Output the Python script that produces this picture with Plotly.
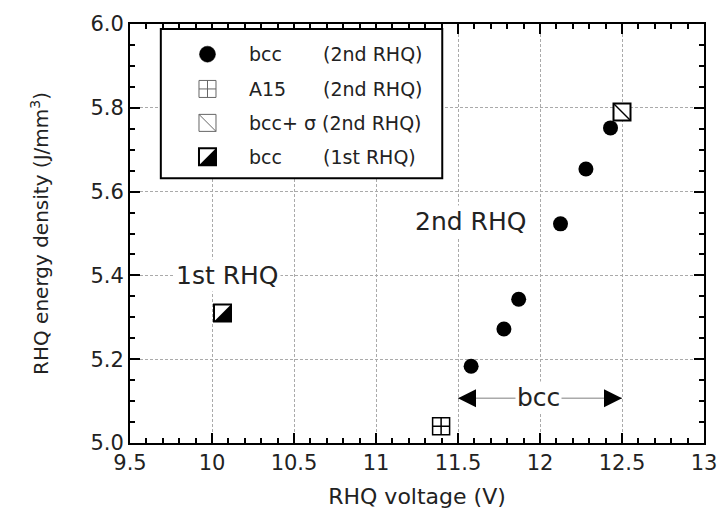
import plotly.graph_objects as go

# ---------------- data ----------------
bcc2_voltage = [11.58, 11.78, 11.87, 12.125, 12.28, 12.43]
bcc2_energy = [5.183, 5.272, 5.343, 5.523, 5.654, 5.752]
a15_voltage = [11.397]
a15_energy = [5.04]
sigma_voltage = [12.50]
sigma_energy = [5.79]
bcc1_voltage = [10.064]
bcc1_energy = [5.31]

bcc_span_voltage = [11.5, 12.5]
bcc_span_energy = [5.107, 5.107]

label_texts = ["1st RHQ", "2nd RHQ", "bcc"]
label_voltage = [10.096, 11.578, 11.99]
label_energy = [5.40, 5.528, 5.109]

legend_phase = ["bcc", "A15", "bcc+ σ", "bcc"]
legend_run = ["(2nd RHQ)", "(2nd RHQ)", "(2nd RHQ)", "(1st RHQ)"]

x_title = "RHQ voltage (V)"
y_title = "RHQ energy density (J/mm<sup>3</sup>)"

FONT = "DejaVu Sans"
SQ = 17  # square marker size (px)

fig = go.Figure()

# ---------------- data marks ----------------
fig.add_trace(go.Scatter(x=bcc2_voltage, y=bcc2_energy, mode="markers",
                         marker=dict(symbol="circle", size=15, color="black"),
                         showlegend=False))
fig.add_trace(go.Scatter(x=a15_voltage, y=a15_energy, mode="markers",
                         marker=dict(symbol="square-cross-open", size=SQ, color="black",
                                     line=dict(width=1.5, color="black")),
                         showlegend=False))
fig.add_trace(go.Scatter(x=sigma_voltage, y=sigma_energy, mode="markers",
                         marker=dict(symbol="square", size=SQ, color="white",
                                     line=dict(width=2, color="black")),
                         showlegend=False))
fig.add_trace(go.Scatter(x=sigma_voltage, y=sigma_energy, mode="markers",
                         marker=dict(symbol="line-nw", size=SQ, color="black",
                                     line=dict(width=1.5, color="black")),
                         showlegend=False))
fig.add_trace(go.Scatter(x=bcc1_voltage, y=bcc1_energy, mode="markers",
                         marker=dict(symbol="square", size=SQ, color="white",
                                     line=dict(width=2, color="black")),
                         showlegend=False))

# bcc span arrow
fig.add_trace(go.Scatter(x=bcc_span_voltage, y=bcc_span_energy, mode="lines",
                         line=dict(color="#aaaaaa", width=1.5), showlegend=False,
                         hoverinfo="skip"))
fig.add_trace(go.Scatter(x=bcc_span_voltage, y=bcc_span_energy, mode="markers",
                         marker=dict(symbol=["arrow-left", "arrow-right"], size=18,
                                     color="black", line=dict(width=0)),
                         showlegend=False, hoverinfo="skip"))

half = SQ / 2
tri_path = f"M {half},{half} L {half},{-half} L {-half},{-half} Z"
for xv, yv in zip(bcc1_voltage, bcc1_energy):
    fig.add_shape(type="path", xref="x", yref="y", xsizemode="pixel", ysizemode="pixel",
                  xanchor=xv, yanchor=yv, path=tri_path,
                  fillcolor="black", line=dict(width=0), layer="above")

# ---------------- labels ----------------
for t, xv, yv in zip(label_texts, label_voltage, label_energy):
    fig.add_annotation(x=xv, y=yv, text=t, showarrow=False, bgcolor="white",
                       xanchor="center", yanchor="middle",
                       font=dict(size=25, family=FONT, color="#222"), borderpad=1)

# ---------------- legend (custom) ----------------
lx0, lx1, ly0, ly1 = 0.0537, 0.544, 0.632, 0.988
fig.add_shape(type="rect", xref="paper", yref="paper", x0=lx0, x1=lx1, y0=ly0, y1=ly1,
              fillcolor="white", line=dict(color="black", width=2), layer="above")
row_y = [0.928, 0.845, 0.764, 0.683]
sym_x = 0.135


def leg_shape(kind, path_or_box, yv, fill, color, width):
    common = dict(xref="paper", yref="paper", xsizemode="pixel", ysizemode="pixel",
                  xanchor=sym_x, yanchor=yv, layer="above",
                  line=dict(color=color, width=width), fillcolor=fill)
    if kind == "path":
        fig.add_shape(type="path", path=path_or_box, **common)
    else:
        fig.add_shape(type=kind, x0=-path_or_box, x1=path_or_box,
                      y0=-path_or_box, y1=path_or_box, **common)


gray = "#666666"
leg_shape("circle", 8, row_y[0], "black", "black", 0.5)
leg_shape("rect", half, row_y[1], "white", gray, 1)
leg_shape("path", f"M {-half},0 L {half},0 M 0,{-half} L 0,{half}", row_y[1], None, gray, 1)
leg_shape("rect", half, row_y[2], "white", gray, 1)
leg_shape("path", f"M {-half},{half} L {half},{-half}", row_y[2], None, gray, 1)
leg_shape("rect", half, row_y[3], "white", "black", 2)
leg_shape("path", tri_path, row_y[3], "black", "black", 0)

col1_x = 0.203
col2_x = 0.333
leg_font = dict(size=19, family=FONT, color="#222")
for i, (ph, run, yv) in enumerate(zip(legend_phase, legend_run, row_y)):
    if i == 2:
        fig.add_annotation(x=col1_x, y=yv, xref="paper", yref="paper", xanchor="left",
                           yanchor="middle", text=ph + " " + run, showarrow=False,
                           font=leg_font)
    else:
        fig.add_annotation(x=col1_x, y=yv, xref="paper", yref="paper", xanchor="left",
                           yanchor="middle", text=ph, showarrow=False, font=leg_font)
        fig.add_annotation(x=col2_x, y=yv, xref="paper", yref="paper", xanchor="left",
                           yanchor="middle", text=run, showarrow=False, font=leg_font)

# ---------------- axes ----------------
fig.update_layout(
    width=717, height=517,
    margin=dict(l=130, r=13, t=24, b=74, autoexpand=False),
    paper_bgcolor="white", plot_bgcolor="white",
    font=dict(family=FONT, size=20, color="#222"),
    xaxis=dict(range=[9.5, 13], tick0=9.5, dtick=0.5,
               ticks="inside", ticklen=10, tickwidth=2, tickcolor="black",
               showline=True, linecolor="black", linewidth=2, mirror="ticks",
               showgrid=True, gridcolor="#aaaaaa", gridwidth=1, griddash="3px,2px",
               zeroline=False, ticklabeloverflow="allow",
               tickfont=dict(size=21, family=FONT, color="#222"),
               minor=dict(dtick=0.1, ticks="inside", ticklen=5, tickcolor="black",
                          tickwidth=1.5, showgrid=False),
               title=dict(text=x_title, font=dict(size=22, family=FONT, color="#222"),
                          standoff=14)),
    yaxis=dict(range=[5.0, 6.0], tick0=5.0, dtick=0.2, tickformat=".1f",
               ticks="inside", ticklen=10, tickwidth=2, tickcolor="black",
               showline=True, linecolor="black", linewidth=2, mirror="ticks",
               showgrid=True, gridcolor="#aaaaaa", gridwidth=1, griddash="3px,2px",
               zeroline=False,
               tickfont=dict(size=21, family=FONT, color="#222"),
               minor=dict(dtick=0.05, ticks="inside", ticklen=5, tickcolor="black",
                          tickwidth=1.5, showgrid=False),
               title=dict(text=y_title, font=dict(size=20, family=FONT, color="#222"),
                          standoff=36)),
)

fig.write_html("out.html", config={"displayModeBar": False},
               post_script="document.body.style.margin='0';")
